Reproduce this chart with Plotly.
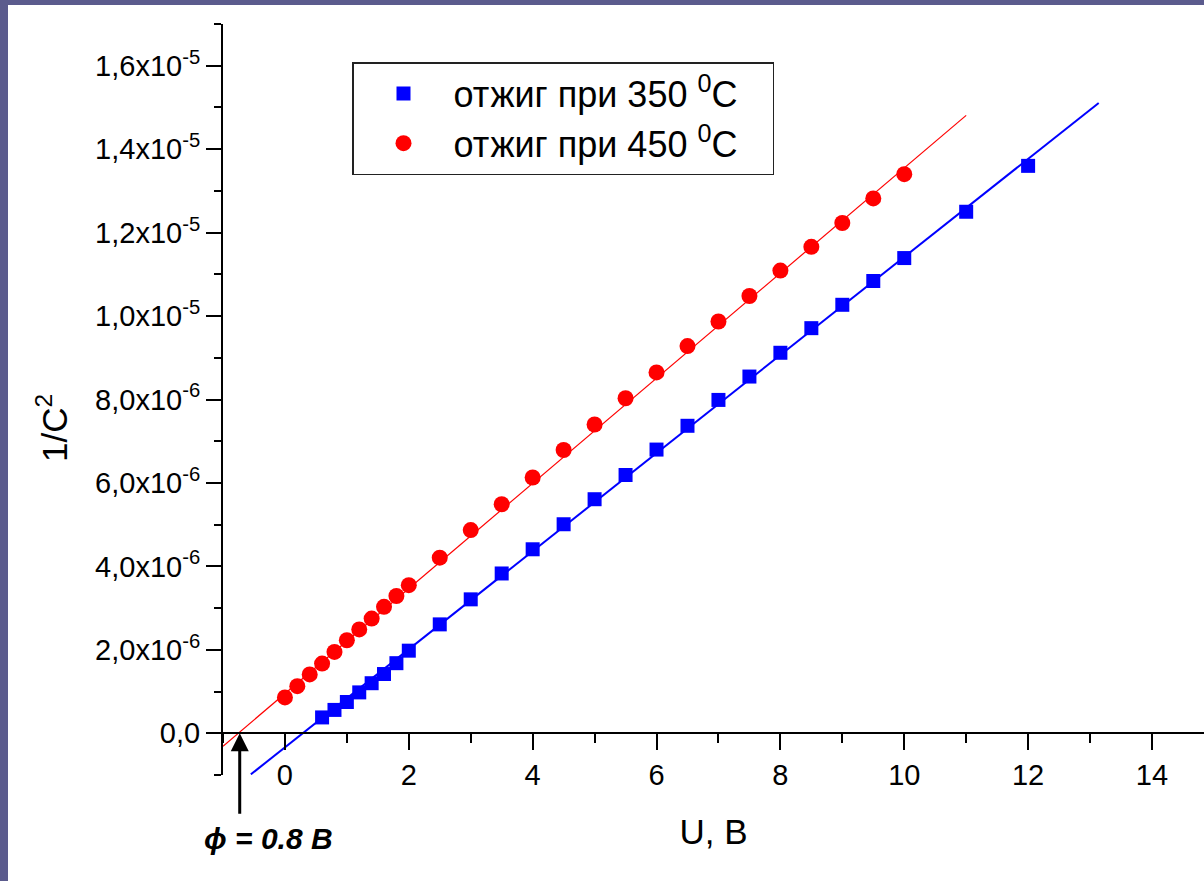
import plotly.graph_objects as go

# ---- data ----
u_350 = [0.6, 0.8, 1.0, 1.2, 1.4, 1.6, 1.8, 2.0, 2.5, 3.0, 3.5, 4.0, 4.5, 5.0, 5.5,
         6.0, 6.5, 7.0, 7.5, 8.0, 8.5, 9.0, 9.5, 10.0, 11.0, 12.0]
c_350 = [0.38e-6, 0.56e-6, 0.75e-6, 0.98e-6, 1.20e-6, 1.42e-6, 1.68e-6, 1.98e-6,
         2.61e-6, 3.21e-6, 3.83e-6, 4.41e-6, 5.01e-6, 5.61e-6, 6.19e-6, 6.80e-6,
         7.37e-6, 7.99e-6, 8.55e-6, 9.12e-6, 9.71e-6, 10.27e-6, 10.84e-6, 11.39e-6,
         12.50e-6, 13.60e-6]

u_450 = [0.0, 0.2, 0.4, 0.6, 0.8, 1.0, 1.2, 1.4, 1.6, 1.8, 2.0, 2.5, 3.0, 3.5, 4.0,
         4.5, 5.0, 5.5, 6.0, 6.5, 7.0, 7.5, 8.0, 8.5, 9.0, 9.5, 10.0]
c_450 = [0.86e-6, 1.13e-6, 1.41e-6, 1.67e-6, 1.95e-6, 2.23e-6, 2.49e-6, 2.75e-6,
         3.03e-6, 3.29e-6, 3.55e-6, 4.21e-6, 4.87e-6, 5.49e-6, 6.13e-6, 6.79e-6,
         7.40e-6, 8.03e-6, 8.65e-6, 9.28e-6, 9.87e-6, 10.48e-6, 11.09e-6, 11.66e-6,
         12.23e-6, 12.82e-6, 13.40e-6]

# linear fits (slope, intercept) and their x extent
fit_350 = (1.1755e-6, -0.338e-6)
fit_350_x = [-0.55, 13.14]
fit_450 = (1.26e-6, 0.95e-6)
fit_450_x = [-1.0, 11.0]

phi_u = -0.73  # where the arrow points on the U axis

x_tickvals = [0, 2, 4, 6, 8, 10, 12, 14]
x_minor = [-1, 1, 3, 5, 7, 9, 11, 13]
y_tickvals = [0, 2e-6, 4e-6, 6e-6, 8e-6, 1.0e-5, 1.2e-5, 1.4e-5, 1.6e-5]
y_ticktext = ["0,0", "2,0x10<sup>-6</sup>", "4,0x10<sup>-6</sup>", "6,0x10<sup>-6</sup>",
              "8,0x10<sup>-6</sup>", "1,0x10<sup>-5</sup>", "1,2x10<sup>-5</sup>",
              "1,4x10<sup>-5</sup>", "1,6x10<sup>-5</sup>"]
y_minor = [-1e-6, 1e-6, 3e-6, 5e-6, 7e-6, 9e-6, 1.1e-5, 1.3e-5, 1.5e-5, 1.7e-5]

x_range = [-1, 14.84]
y_range = [-1e-6, 1.7e-5]

FONT = "Liberation Sans, Arial, sans-serif"
PAD = "\u00a0\u00a0\u00a0"

fig = go.Figure()

# fit lines
fig.add_trace(go.Scatter(
    x=fit_450_x, y=[fit_450[0] * x + fit_450[1] for x in fit_450_x],
    mode="lines", line=dict(color="#ff0000", width=1.2), showlegend=False,
    hoverinfo="skip"))
fig.add_trace(go.Scatter(
    x=fit_350_x, y=[fit_350[0] * x + fit_350[1] for x in fit_350_x],
    mode="lines", line=dict(color="#0000ff", width=2), showlegend=False,
    hoverinfo="skip"))

# data
fig.add_trace(go.Scatter(
    x=u_350, y=c_350, mode="markers", name="отжиг при 350 <sup>0</sup>C" + PAD,
    marker=dict(symbol="square", size=14, color="#0000ff")))
fig.add_trace(go.Scatter(
    x=u_450, y=c_450, mode="markers", name="отжиг при 450 <sup>0</sup>C" + PAD,
    marker=dict(symbol="circle", size=16, color="#ff0000")))

W, H = 1204, 881
ml, mr, mt, mb = 223, 0, 24, 106
pw, ph = W - ml - mr, H - mt - mb

def px_to_paper_x(px):
    return (px - ml) / pw

def px_to_paper_y(py):
    return (H - mb - py) / ph

zero_pos = (0 - y_range[0]) / (y_range[1] - y_range[0])

fig.update_layout(
    width=W, height=H,
    margin=dict(l=ml, r=mr, t=mt, b=mb),
    paper_bgcolor="#5b5b8d",
    plot_bgcolor="rgba(0,0,0,0)",
    font=dict(family=FONT, color="black", size=29),
    showlegend=True,
    legend=dict(
        x=px_to_paper_x(352), y=px_to_paper_y(62), xanchor="left", yanchor="top",
        bgcolor="white", bordercolor="#222222", borderwidth=1.5,
        font=dict(family=FONT, size=36, color="black"),
        itemwidth=90, tracegroupgap=0,
    ),
    xaxis=dict(
        range=x_range, anchor="free", position=zero_pos,
        showline=True, linecolor="black", linewidth=2,
        showgrid=False, zeroline=False,
        tickmode="array", tickvals=x_tickvals,
        ticks="outside", ticklen=16, tickwidth=2, tickcolor="black",
        tickfont=dict(family=FONT, size=29, color="black"),
        minor=dict(tickmode="array", tickvals=x_minor, ticks="outside",
                   ticklen=9, tickwidth=2, tickcolor="black"),
        title=dict(text="U, B", font=dict(family=FONT, size=35, color="black"),
                   standoff=28),
    ),
    yaxis=dict(
        range=y_range,
        showline=True, linecolor="black", linewidth=2,
        showgrid=False, zeroline=False,
        tickmode="array", tickvals=y_tickvals, ticktext=y_ticktext,
        ticks="outside", ticklen=15, tickwidth=2, tickcolor="black",
        tickfont=dict(family=FONT, size=29, color="black"),
        minor=dict(tickmode="array", tickvals=y_minor, ticks="outside",
                   ticklen=7, tickwidth=2, tickcolor="black"),
    ),
    shapes=[dict(
        type="rect", xref="paper", yref="paper", layer="below",
        x0=px_to_paper_x(8), x1=1.05, y0=-0.3, y1=px_to_paper_y(5),
        fillcolor="white", line=dict(width=0),
    )],
    annotations=[
        dict(x=px_to_paper_x(52), y=px_to_paper_y(428), xref="paper", yref="paper",
             text="1/C<sup>2</sup>", textangle=-90, showarrow=False,
             font=dict(family=FONT, size=35, color="black"),
             xanchor="center", yanchor="middle"),
        dict(x=phi_u, y=0, xref="x", yref="y", text="", showarrow=True,
             ax=0, ay=82, arrowhead=2, arrowsize=1.2, arrowwidth=3,
             arrowcolor="black"),
        dict(x=px_to_paper_x(268), y=px_to_paper_y(838), xref="paper", yref="paper",
             text="<b><i>ϕ = 0.8 B</i></b>", showarrow=False,
             font=dict(family=FONT, size=30, color="black"),
             xanchor="center", yanchor="middle"),
    ],
)

fig.write_html("out.html")
